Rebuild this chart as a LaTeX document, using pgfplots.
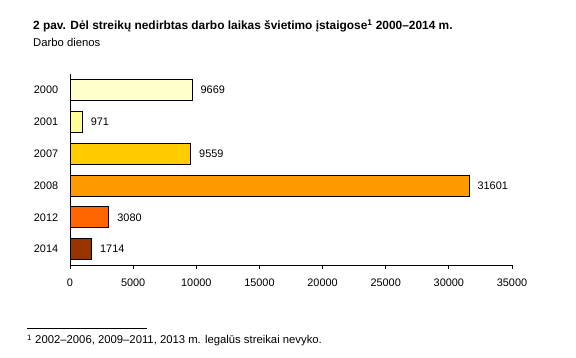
\documentclass[border=0pt]{standalone}
\usepackage{pgfplots}
\pgfplotsset{compat=1.18}
\usepackage{fontspec}
\setmainfont{Liberation Sans}
\definecolor{c2000}{HTML}{FFFFCC}
\definecolor{c2001}{HTML}{FFFF99}
\definecolor{c2007}{HTML}{FFCC00}
\definecolor{c2008}{HTML}{FF9900}
\definecolor{c2012}{HTML}{FF6600}
\definecolor{c2014}{HTML}{993300}
\begin{document}
\fontsize{10.9}{12}\selectfont
\begin{tikzpicture}
\useasboundingbox (0,0) rectangle (576pt,358pt);
\node[anchor=base west, inner sep=0, font=\fontsize{11.9}{13}\selectfont\bfseries] at (33pt,328pt) {2 pav. Dėl streikų nedirbtas darbo laikas švietimo įstaigose\textsuperscript{1} 2000–2014 m.};
\node[anchor=base west, inner sep=0, font=\fontsize{11.3}{13}\selectfont] at (33pt,311.5pt) {Darbo dienos};
\draw[line width=0.8pt] (27pt,29.7pt) -- (147pt,29.7pt);
\node[anchor=base west, inner sep=0, font=\fontsize{11.3}{13}\selectfont] at (27pt,14pt) {\textsuperscript{1} 2002–2006, 2009–2011, 2013 m. legalūs streikai nevyko.};
\begin{axis}[
  at={(70pt,93pt)}, anchor=south west,
  scale only axis, width=442pt, height=191pt,
  xbar, bar width=21pt, bar shift=0pt,
  y dir=reverse,
  xmin=0, xmax=35000, ymin=-0.5, ymax=5.5,
  axis x line=bottom, axis y line=left,
  axis line style={-, line width=0.9pt},
  xtick={0,5000,...,35000},
  scaled x ticks=false,
  /pgf/number format/.cd, set thousands separator={}, assume math mode=true, 1000 sep={},
  /pgfplots/.cd,
  x tick style={line width=0.9pt, black},
  tick align=outside,
  major tick length=4pt,
  xticklabel style={yshift=-6pt},
  ytick={0,1,2,3,4,5},
  yticklabels={2000,2001,2007,2008,2012,2014},
  y tick style={draw=none},
  yticklabel style={xshift=-4pt},
  extra y ticks={-0.5,0.5,1.5,2.5,3.5,4.5},
  extra y tick labels={},
  extra y tick style={tick style={line width=0.9pt, black, draw=black}},
  nodes near coords,
  nodes near coords style={anchor=west, xshift=4.5pt, /pgf/number format/.cd, 1000 sep={}, assume math mode=true},
  every axis plot/.append style={draw=black, line width=0.8pt},
  clip=false,
]
\addplot[fill=c2000] coordinates {(9669,0)};
\addplot[fill=c2001] coordinates {(971,1)};
\addplot[fill=c2007] coordinates {(9559,2)};
\addplot[fill=c2008] coordinates {(31601,3)};
\addplot[fill=c2012] coordinates {(3080,4)};
\addplot[fill=c2014] coordinates {(1714,5)};
\end{axis}
\end{tikzpicture}
\end{document}
